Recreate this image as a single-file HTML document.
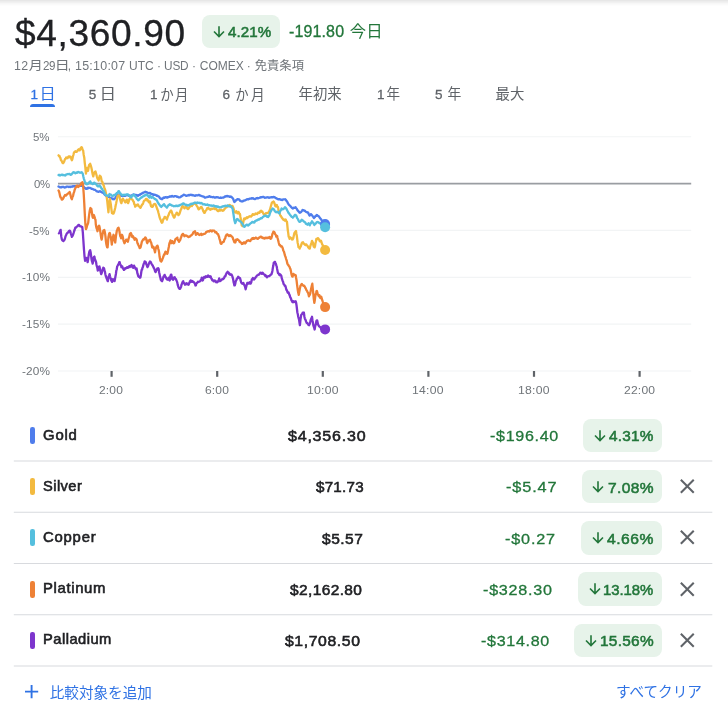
<!DOCTYPE html>
<html lang="ja"><head><meta charset="utf-8"><title>Gold futures comparison</title>
<style>
html,body{margin:0;padding:0;background:#fff}
figure,header,nav,section,footer{margin:0;padding:0;display:block}
body{width:728px;height:711px;position:relative;overflow:hidden;font-family:"Liberation Sans",sans-serif}
#app{position:absolute;left:0;top:0;width:728px;height:711px;will-change:transform}
.t{position:absolute;white-space:nowrap;transform-origin:0 0;font-family:"Liberation Sans",sans-serif;font-weight:400}
.m{-webkit-text-stroke:0.3px currentColor}
.M{-webkit-text-stroke:0.55px currentColor}
.b{font-weight:700}
.j,.ic,.chart{position:absolute;display:block;overflow:visible}
.j text{font-family:"Liberation Sans","Noto Sans CJK JP",sans-serif;font-size:1000px;font-weight:400}
.chart{left:0;top:0}
.topshade{position:absolute;left:0;top:0;width:100%;height:6px;background:linear-gradient(to bottom,rgba(0,0,0,.10),rgba(0,0,0,.03) 60%,rgba(0,0,0,0))}
.badge{position:absolute;background:#e7f3ea;border-radius:8px}
.pill{position:absolute;width:4.4px;height:17px;border-radius:2.2px}
.sep{position:absolute;left:14px;width:698px;height:1px;background:#dadce0}
.uline{position:absolute;background:#2f72e4;border-radius:3px 3px 0 0}
</style></head>
<body>
<div id="app">
<div class="topshade"></div>
<!-- price header -->
<header aria-label="Price">
<div class="badge" style="left:201.8px;top:15.1px;width:78px;height:33.3px"></div>
<svg class="ic" style="left:212.6px;top:25.8px" width="12" height="12" viewBox="0 0 12 12" fill="none" stroke="#22763a" stroke-width="1.6"><path d="M6 .2V10.4M1 5.5L6 10.5l5-5"/></svg>
<span class="t m" style="left:14.76px;top:10px;font-size:36px;line-height:47px;color:#202124;letter-spacing:0.62px;transform:scaleX(1.0302);">$4,360.90</span>
<span class="t M" style="left:227.78px;top:22px;font-size:15px;line-height:20px;color:#22763a;letter-spacing:0.09px;transform:scaleX(1.0088);">4.21%</span>
<span class="t m" style="left:289.18px;top:21px;font-size:15.8px;line-height:21px;color:#22763a;letter-spacing:0.12px;transform:scaleX(1.0135);">-191.80</span>
<svg class="j" role="img" aria-label="今日" style="left:350.27px;top:23.17px" width="30.65" height="15.86" viewBox="15 -863 1869 967" preserveAspectRatio="none" fill="#22763a"><title>今日</title><text x="0" y="0" font-size="1000" fill="#22763a">今日</text></svg>
</header>
<!-- timestamp / exchange line -->
<div aria-label="Quote details">
<span class="t" style="left:13.94px;top:58px;font-size:12px;line-height:16px;color:#70757a;letter-spacing:0.42px;transform:scaleX(1.0297);">12</span>
<span class="t" style="left:42.83px;top:58px;font-size:12px;line-height:16px;color:#70757a;letter-spacing:-0.46px;transform:scaleX(0.9650);">29</span>
<span class="t" style="left:67.77px;top:58px;font-size:12px;line-height:16px;color:#70757a;">,</span>
<span class="t" style="left:75.16px;top:58px;font-size:12px;line-height:16px;color:#70757a;letter-spacing:0.25px;transform:scaleX(1.0356);">15:10:07</span>
<span class="t" style="left:129px;top:58px;font-size:12px;line-height:16px;color:#70757a;letter-spacing:-0.01px;">UTC</span>
<span class="t" style="left:156.9px;top:58px;font-size:12px;line-height:16px;color:#70757a;">·</span>
<span class="t" style="left:163.74px;top:58px;font-size:12px;line-height:16px;color:#70757a;letter-spacing:-0.17px;transform:scaleX(0.9862);">USD</span>
<span class="t" style="left:191.9px;top:58px;font-size:12px;line-height:16px;color:#70757a;">·</span>
<span class="t" style="left:199.77px;top:58px;font-size:12px;line-height:16px;color:#70757a;letter-spacing:0.01px;">COMEX</span>
<span class="t" style="left:246.64px;top:58px;font-size:12px;line-height:16px;color:#70757a;">·</span>
<svg class="j" role="img" aria-label="月" style="left:28.92px;top:59.52px" width="11.66" height="11.17" viewBox="9 -807 832 908" preserveAspectRatio="none" fill="#70757a"><title>月</title><text x="0" y="0" font-size="1000" fill="#70757a">月</text></svg>
<svg class="j" role="img" aria-label="日" style="left:57px;top:59.68px" width="10.4" height="10.84" viewBox="156 -792 696 881" preserveAspectRatio="none" fill="#70757a"><title>日</title><text x="0" y="0" font-size="1000" fill="#70757a">日</text></svg>
<svg class="j" role="img" aria-label="免責条項" style="left:254.95px;top:58.96px" width="49.79" height="11.88" viewBox="16 -863 4048 966" preserveAspectRatio="none" fill="#70757a"><title>免責条項</title><text x="0" y="0" font-size="1000" fill="#70757a">免責条項</text></svg>
</div>
<!-- range tabs -->
<nav aria-label="Range">
<div class="uline" style="left:30.2px;top:104px;width:25.3px;height:3px"></div>
<span class="t m" style="left:30.54px;top:86px;font-size:13.5px;line-height:18px;color:#2f72e4;">1</span>
<span class="t m" style="left:88.7px;top:86px;font-size:13.5px;line-height:18px;color:#5f6368;">5</span>
<span class="t m" style="left:149.93px;top:86px;font-size:13.5px;line-height:18px;color:#5f6368;">1</span>
<span class="t m" style="left:222.6px;top:86px;font-size:13.5px;line-height:18px;color:#5f6368;">6</span>
<span class="t m" style="left:376.9px;top:86px;font-size:13.5px;line-height:18px;color:#5f6368;">1</span>
<span class="t m" style="left:434.92px;top:86px;font-size:13.5px;line-height:18px;color:#5f6368;">5</span>
<svg class="j" role="img" aria-label="日" style="left:41.97px;top:87.86px" width="11.35" height="12.69" viewBox="156 -792 696 881" preserveAspectRatio="none" fill="#2f72e4"><title>日</title><text x="0" y="0" font-size="1000" fill="#2f72e4">日</text></svg>
<svg class="j" role="img" aria-label="日" style="left:102.37px;top:87.86px" width="11.56" height="12.69" viewBox="156 -792 696 881" preserveAspectRatio="none" fill="#5f6368"><title>日</title><text x="0" y="0" font-size="1000" fill="#5f6368">日</text></svg>
<svg class="j" role="img" aria-label="か" style="left:160.53px;top:88px" width="12.44" height="12.4" viewBox="58 -810 927 861" preserveAspectRatio="none" fill="#5f6368"><title>か</title><text x="0" y="0" font-size="1000" fill="#5f6368">か</text></svg>
<svg class="j" role="img" aria-label="月" style="left:175.33px;top:87.66px" width="11.14" height="13.08" viewBox="9 -807 832 908" preserveAspectRatio="none" fill="#5f6368"><title>月</title><text x="0" y="0" font-size="1000" fill="#5f6368">月</text></svg>
<svg class="j" role="img" aria-label="か" style="left:235.93px;top:88px" width="12.33" height="12.4" viewBox="58 -810 927 861" preserveAspectRatio="none" fill="#5f6368"><title>か</title><text x="0" y="0" font-size="1000" fill="#5f6368">か</text></svg>
<svg class="j" role="img" aria-label="月" style="left:250.92px;top:87.66px" width="11.45" height="13.08" viewBox="9 -807 832 908" preserveAspectRatio="none" fill="#5f6368"><title>月</title><text x="0" y="0" font-size="1000" fill="#5f6368">月</text></svg>
<svg class="j" role="img" aria-label="年初来" style="left:298.51px;top:87.25px" width="44.28" height="13.9" viewBox="28 -864 3075 965" preserveAspectRatio="none" fill="#5f6368"><title>年初来</title><text x="0" y="0" font-size="1000" fill="#5f6368">年初来</text></svg>
<svg class="j" role="img" aria-label="年" style="left:387.03px;top:87.26px" width="12.84" height="13.88" viewBox="28 -864 946 964" preserveAspectRatio="none" fill="#5f6368"><title>年</title><text x="0" y="0" font-size="1000" fill="#5f6368">年</text></svg>
<svg class="j" role="img" aria-label="年" style="left:447.62px;top:87.26px" width="13.05" height="13.88" viewBox="28 -864 946 964" preserveAspectRatio="none" fill="#5f6368"><title>年</title><text x="0" y="0" font-size="1000" fill="#5f6368">年</text></svg>
<svg class="j" role="img" aria-label="最大" style="left:495.71px;top:87.3px" width="28.77" height="13.81" viewBox="29 -859 1998 959" preserveAspectRatio="none" fill="#5f6368"><title>最大</title><text x="0" y="0" font-size="1000" fill="#5f6368">最大</text></svg>
</nav>
<!-- comparison chart -->
<figure aria-label="Chart">
<svg class="chart" width="728" height="711" viewBox="0 0 728 711"><line x1="58" x2="691.2" y1="136.75" y2="136.75" stroke="#f2f4f5" stroke-width="1.2"/><line x1="58" x2="691.2" y1="230.45" y2="230.45" stroke="#f2f4f5" stroke-width="1.2"/><line x1="58" x2="691.2" y1="277.3" y2="277.3" stroke="#f2f4f5" stroke-width="1.2"/><line x1="58" x2="691.2" y1="324.15" y2="324.15" stroke="#f2f4f5" stroke-width="1.2"/><line x1="58" x2="691.2" y1="371" y2="371" stroke="#f2f4f5" stroke-width="1.2"/><line x1="58" x2="691.2" y1="183.6" y2="183.6" stroke="#9a9da2" stroke-width="1.8"/><line x1="111.6" x2="111.6" y1="371" y2="376.8" stroke="#5f6368" stroke-width="2.2"/><line x1="217.2" x2="217.2" y1="371" y2="376.8" stroke="#5f6368" stroke-width="2.2"/><line x1="322.8" x2="322.8" y1="371" y2="376.8" stroke="#5f6368" stroke-width="2.2"/><line x1="428.4" x2="428.4" y1="371" y2="376.8" stroke="#5f6368" stroke-width="2.2"/><line x1="534" x2="534" y1="371" y2="376.8" stroke="#5f6368" stroke-width="2.2"/><line x1="639.6" x2="639.6" y1="371" y2="376.8" stroke="#5f6368" stroke-width="2.2"/><path d="M58.52 186.54 L59.05 186.79 L59.58 187.17 L60.1 187.32 L60.63 187.38 L61.16 186.97 L61.69 187.3 L62.21 187 L62.74 186.96 L63.27 186.87 L63.8 186.93 L64.32 187.52 L64.85 187.38 L65.38 187.38 L65.9 187.14 L66.42 186.64 L66.95 186.68 L67.48 186.54 L68 186.75 L68.53 186.98 L69.06 186.96 L69.59 186.7 L70.12 187.03 L70.64 186.61 L71.17 186.54 L71.7 186.79 L72.22 186.32 L72.75 186.56 L73.28 186.26 L73.81 186.42 L74.34 186.1 L74.86 186.32 L75.39 186.26 L75.92 186.2 L76.44 186.04 L76.97 186.18 L77.5 185.98 L78.03 185.89 L78.56 186.13 L79.08 185.97 L79.61 185.84 L80.14 185.82 L80.66 185.97 L81.19 185.71 L81.72 185.56 L82.19 185.6 L82.66 186.12 L83.13 186.26 L83.6 186.69 L84.07 187.25 L84.54 187.95 L85.01 187.89 L85.47 188.68 L85.94 188.79 L86.41 188.4 L86.88 188.77 L87.35 188.37 L87.82 187.83 L88.29 188.19 L88.76 187.67 L89.23 187.96 L89.69 187.92 L90.16 187.95 L90.63 188.22 L91.1 188.42 L91.57 188.79 L92.04 188.91 L92.5 188.94 L92.97 189.07 L93.44 189.52 L93.91 189.53 L94.38 189.77 L94.85 189.93 L95.32 190 L95.79 190.48 L96.26 190.91 L96.72 191.32 L97.19 191.6 L97.66 191.52 L98.13 191.59 L98.6 191.88 L99.07 191.47 L99.54 191.26 L100.01 191.18 L100.48 191.47 L100.94 191.87 L101.41 191.88 L101.88 192.25 L102.35 192.7 L102.82 192.59 L103.29 192.98 L103.76 193.45 L104.23 193.99 L104.7 194.67 L105.16 195.11 L105.63 195.4 L106.1 195.89 L106.57 196.19 L107.04 196.1 L107.51 196.34 L107.98 196.55 L108.45 196.81 L108.92 197.11 L109.38 197.21 L109.85 197.51 L110.32 197.71 L110.79 198.28 L111.26 198.21 L111.73 198.28 L112.2 198.38 L112.67 198.92 L113.14 199.25 L113.6 198.81 L114.07 199.2 L114.54 198.68 L115.01 198.23 L115.48 197.51 L115.95 196.56 L116.41 196.18 L116.88 195.4 L117.35 194.97 L117.82 194.65 L118.29 194.7 L118.76 194.47 L119.23 194.54 L119.7 194.98 L120.17 194.97 L120.63 195.46 L121.1 195.82 L121.57 195.84 L122.04 195.73 L122.51 196.1 L122.98 195.82 L123.45 195.88 L123.92 195.4 L124.39 195.73 L124.85 195.39 L125.32 195.82 L125.79 195.45 L126.26 195.47 L126.73 194.98 L127.2 194.8 L127.67 195.25 L128.14 195.4 L128.61 195.84 L129.07 195.45 L129.54 195.82 L130.01 195.57 L130.48 195.76 L130.95 196.1 L131.42 195.7 L131.89 195.19 L132.36 194.98 L132.83 195.06 L133.29 194.36 L133.76 194.42 L134.23 194.69 L134.7 194.94 L135.17 194.98 L135.64 195.09 L136.11 194.95 L136.58 195.4 L137.05 195.25 L137.51 195.35 L137.98 195.82 L138.45 195.22 L138.92 195.1 L139.39 194.98 L139.86 194.44 L140.32 194.65 L140.79 193.99 L141.26 193.97 L141.73 193.45 L142.2 193.29 L142.67 193.16 L143.14 192.58 L143.61 192.59 L144.08 192.41 L144.54 192.27 L145.01 191.88 L145.48 191.74 L145.95 192.33 L146.42 192.17 L146.89 192.37 L147.36 192.59 L147.83 193.01 L148.3 193.12 L148.76 193.02 L149.23 193.29 L150 192.9 L150.53 193.3 L151.06 193.84 L151.58 193.91 L152.11 194.3 L152.64 194.07 L153.17 194.75 L153.69 194.85 L154.22 194.73 L154.75 194.67 L155.28 194.96 L155.8 195.11 L156.33 195.29 L156.86 195.81 L157.38 195.72 L157.91 196.2 L158.44 196.41 L158.97 196.62 L159.5 197.43 L160.02 198.29 L160.55 198.52 L161.02 198.94 L161.48 198.7 L161.95 199.23 L162.42 198.99 L162.89 198.14 L163.36 197.82 L163.89 197.49 L164.42 197.76 L164.94 197.33 L165.47 197.12 L166 197 L166.53 197.54 L167.05 197.36 L167.58 197.54 L168.11 197.18 L168.63 196.98 L169.16 196.88 L169.69 196.41 L170.22 196.53 L170.75 196.39 L171.27 196.52 L171.8 196.13 L172.33 195.95 L172.86 196.5 L173.38 196.69 L173.91 196.69 L174.44 196.23 L174.97 196.17 L175.49 196.03 L176.02 196.13 L176.55 196.46 L177.07 196.94 L177.6 196.58 L178.13 197.12 L178.66 197.43 L179.19 197.37 L179.71 197.28 L180.24 197.12 L180.77 196.87 L181.3 196.11 L181.82 196.33 L182.35 195.71 L182.82 195.58 L183.29 195.08 L183.76 194.73 L184.28 194.78 L184.81 195.03 L185.34 195.36 L185.86 195.71 L186.39 195.87 L186.92 195.71 L187.44 195.64 L187.97 195.29 L188.5 195.02 L189.03 195.45 L189.55 194.96 L190.08 195.01 L190.61 194.78 L191.13 195.07 L191.66 194.98 L192.19 195.01 L192.72 195.41 L193.25 195.28 L193.77 195.24 L194.3 195.71 L194.83 195.79 L195.36 195.75 L195.88 195.15 L196.41 195.29 L196.94 195.31 L197.47 195.29 L197.99 195.33 L198.52 195.01 L199.05 194.96 L199.57 195.06 L200.1 195.62 L200.63 195.71 L201.16 195.89 L201.69 196.05 L202.21 196.24 L202.74 196.41 L203.27 196.59 L203.8 196.64 L204.32 197.05 L204.85 197.54 L205.38 197.6 L205.91 197.49 L206.43 197.04 L206.96 197.12 L207.49 196.83 L208.01 196.94 L208.54 196.91 L209.07 196.41 L209.6 196.17 L210.12 196.42 L210.65 196.99 L211.18 196.84 L211.71 197.01 L212.24 197.25 L212.76 197.2 L213.29 197.12 L213.82 196.99 L214.34 197.64 L214.87 197.68 L215.4 197.54 L215.93 197.26 L216.45 197.32 L216.98 197.1 L217.51 197.4 L218.04 197.28 L218.56 197.58 L219.09 197.78 L219.62 197.82 L220.15 197.85 L220.68 197.54 L221.2 197.95 L221.73 197.82 L222.26 197.57 L222.78 197.58 L223.31 197.62 L223.84 197.12 L224.37 197.2 L224.89 196.42 L225.42 196.66 L225.95 196.13 L226.48 196.34 L227 195.92 L227.53 196.12 L228.06 196.41 L228.59 196.22 L229.12 196.42 L229.64 196.94 L230.17 196.69 L230.64 196.52 L231.11 196.89 L231.58 197.12 L232.05 197.33 L232.51 198.18 L232.98 198.52 L233.45 199.69 L233.92 201.02 L234.39 202.04 L234.86 201.58 L235.32 201.11 L235.79 200.63 L236.26 199.91 L236.73 199.92 L237.2 199.23 L237.73 199.06 L238.25 199.32 L238.78 199.61 L239.31 199.51 L240 200.79 L240.53 200.67 L241.06 201.24 L241.58 201.3 L242.11 201.49 L242.64 201.38 L243.17 200.87 L243.69 200.63 L244.22 200.51 L244.75 200.49 L245.28 200.38 L245.8 200.07 L246.33 199.66 L246.86 199.27 L247.38 199.22 L247.91 199.34 L248.44 199.38 L248.97 198.94 L249.5 198.92 L250.02 198.53 L250.55 198.68 L251.08 198.69 L251.61 198.21 L252.13 198.62 L252.66 198.26 L253.19 198.26 L253.72 198.85 L254.24 198.98 L254.77 199.1 L255.3 199.16 L255.82 198.44 L256.35 198.18 L256.88 198.26 L257.41 198.03 L257.94 198.37 L258.46 198.18 L258.99 197.97 L259.52 197.73 L260.05 197.42 L260.57 197.6 L261.1 197.27 L261.63 197.29 L262.15 197.2 L262.68 196.83 L263.21 196.85 L263.74 196.95 L264.26 197.5 L264.79 197.82 L265.32 197.69 L265.85 197.54 L266.38 197.49 L266.9 197.45 L267.43 197.27 L267.96 197.31 L268.49 197.41 L269.01 197.83 L269.54 197.69 L270.07 197.41 L270.6 197.42 L271.12 197.14 L271.65 197.27 L272.26 197.12 L272.86 197.33 L273.47 196.85 L274.03 197.17 L274.6 197.15 L275.16 197.69 L275.72 198.2 L276.29 198.19 L276.85 198.68 L277.46 198.86 L278.07 199.24 L278.68 199.1 L279.29 199.39 L279.9 199.24 L280.51 199.66 L281.07 199.77 L281.63 199.71 L282.19 200.08 L282.75 199.65 L283.32 199.41 L283.88 199.38 L284.49 199.43 L285.1 199.22 L285.71 199.66 L286.18 200.37 L286.65 201.16 L287.12 201.49 L287.59 202.69 L288.05 203.48 L288.52 204.3 L288.99 204.93 L289.46 205.26 L289.93 205.71 L290.4 206.09 L290.87 206.8 L291.34 207.12 L291.81 207.79 L292.27 207.89 L292.74 208.52 L293.21 208.41 L293.68 207.76 L294.15 207.82 L294.62 207.76 L295.09 207.49 L295.56 207.12 L296.03 208.06 L296.49 208.48 L296.96 209.23 L297.43 210.11 L297.9 210.63 L298.37 211.34 L298.84 211.61 L299.3 212.51 L299.77 212.74 L300.24 212.64 L300.71 212.28 L301.18 212.04 L301.65 211.21 L302.12 210.71 L302.59 209.93 L303.06 210.01 L303.52 210.25 L303.99 210.35 L304.46 210.84 L304.93 210.71 L305.4 211.34 L305.87 211.68 L306.34 211.99 L306.81 212.04 L307.28 212.54 L307.74 212.26 L308.21 212.74 L308.68 213.93 L309.15 214.86 L309.62 215.56 L310.09 215.14 L310.56 214.32 L311.03 214.18 L311.51 214.97 L311.98 215.07 L312.46 215.8 L312.94 216.77 L313.42 217.01 L313.9 218.13 L314.38 217.37 L314.86 217.18 L315.34 216.23 L315.82 215.56 L316.29 215.77 L316.77 215.03 L317.25 215.2 L317.73 215.67 L318.21 215.94 L318.69 216.28 L319.17 216.91 L319.65 217.56 L320.13 218.18 L320.6 218.84 L321.08 219.18 L321.56 220.16 L322.04 220.61 L322.52 221.49 L323 221.93 L323.47 222.86 L323.95 223.11 L324.52 223.39 L325.1 223.98" fill="none" stroke="#4f7dec" stroke-width="2.3" stroke-linejoin="round" stroke-linecap="round"/><path d="M58.52 155.32 L58.99 155.96 L59.45 155.96 L59.92 157.43 L60.39 157.83 L60.86 160.09 L61.33 160.24 L61.8 161.25 L62.27 162.31 L62.74 163.05 L63.21 163.16 L63.67 162.42 L64.14 161.65 L64.63 160.13 L65.13 158.83 L65.69 158.39 L66.25 157.43 L66.72 158.21 L67.19 157.68 L67.66 158.13 L68.13 157.01 L68.59 156.42 L69.06 156.44 L69.53 156.49 L70 157.36 L70.47 156.72 L70.94 157.26 L71.41 159.28 L71.88 160.24 L72.44 158.89 L73 156.02 L73.5 154.53 L73.99 152.5 L74.46 152.13 L74.92 151.84 L75.39 151.1 L75.86 151.9 L76.33 151.58 L76.8 151.8 L77.27 151.25 L77.74 150.31 L78.21 149.69 L78.68 149.32 L79.14 149.98 L79.61 150.39 L80.08 149.76 L80.55 148.23 L81.02 147.58 L81.51 147.17 L82 147.58 L82.56 149.71 L83.13 150.39 L83.69 154.68 L84.25 157.43 L84.75 162.78 L85.24 166.57 L85.94 173.6 L86.5 170.47 L87.07 167.97 L87.56 169.06 L88.05 170.79 L88.55 167.72 L89.04 165.16 L89.6 164.63 L90.16 163.76 L90.72 165.47 L91.29 167.27 L91.78 169.49 L92.27 172.19 L92.77 174.71 L93.26 176.41 L93.82 174.07 L94.38 172.9 L94.94 171.73 L95.51 171.49 L96 173.23 L96.49 175.01 L96.98 177 L97.48 178.52 L98.04 179.37 L98.6 180.63 L99.16 177.9 L99.73 175.71 L100.22 176.42 L100.71 176.41 L101.2 178.34 L101.69 181.34 L102.25 181.73 L102.82 183.45 L103.38 184.79 L103.95 186.26 L104.44 188.18 L104.93 189.07 L105.42 190.83 L105.91 193.29 L106.34 195.29 L106.76 197.51 L107.25 201.19 L107.74 205.95 L108.45 212.28 L109.15 203.14 L109.85 198.92 L110.34 201.79 L110.84 204.54 L111.4 209.09 L111.96 212.98 L112.45 212.8 L112.95 213.68 L113.51 213.6 L114.07 212.28 L114.63 210.26 L115.2 208.06 L115.69 205.24 L116.18 203.14 L116.68 200.63 L117.17 197.51 L117.73 195.72 L118.29 195.4 L118.86 195.25 L119.42 196.1 L119.91 198.77 L120.4 200.32 L120.9 202.32 L121.39 203.14 L121.95 201.18 L122.51 198.92 L122.98 198.66 L123.45 200.05 L123.92 200.32 L124.39 200.83 L124.85 201.77 L125.32 202.43 L125.79 201.9 L126.26 200.49 L126.73 199.62 L127.2 200.06 L127.67 202.67 L128.14 203.14 L128.61 201.81 L129.07 200.54 L129.54 198.92 L130.01 198.38 L130.48 197.66 L130.95 197.51 L131.42 199.01 L131.89 199.43 L132.36 199.62 L132.83 200.19 L133.29 201.48 L133.76 201.73 L134.23 204.12 L134.7 204.44 L135.17 206.65 L135.64 206.16 L136.11 205.41 L136.58 205.25 L137.05 204.73 L137.51 205.34 L137.98 204.54 L138.45 205.47 L138.92 206.34 L139.39 206.65 L139.86 206.65 L140.32 207.91 L140.79 207.36 L141.26 206.18 L141.73 205.51 L142.2 204.54 L142.67 204.29 L143.14 203.1 L143.61 201.73 L144.08 200.82 L144.54 200.55 L145.01 200.32 L145.48 199.71 L145.95 198.98 L146.42 198.92 L146.89 199.04 L147.36 200.62 L147.83 200.32 L148.3 200.4 L148.76 202.36 L149.23 202.43 L150 201.34 L150.56 204.6 L151.13 206.26 L151.69 206.69 L152.25 206.96 L152.81 206.62 L153.38 204.85 L153.94 204.08 L154.5 204.15 L155.06 203.85 L155.63 204.57 L156.19 206.11 L156.75 207.67 L157.31 209.32 L157.88 210.48 L158.44 212.78 L159 214.7 L159.56 217.21 L160.13 218.92 L160.69 219.82 L161.25 221.73 L161.81 222.7 L162.38 222.43 L162.94 220.49 L163.5 218.92 L164.06 218.55 L164.63 216.81 L165.19 217.11 L165.75 217.51 L166.31 218.24 L166.88 219.62 L167.44 217.75 L168 216.1 L168.56 215.22 L169.13 213.29 L169.69 212.33 L170.25 211.18 L170.68 211.55 L171.1 210.48 L171.66 211.59 L172.22 213.29 L172.78 215.15 L173.35 216.1 L173.91 217.58 L174.47 217.51 L175.03 215.52 L175.6 214.7 L176.16 213.7 L176.72 212.59 L177.28 213.06 L177.85 213.99 L178.41 215.12 L178.97 214.7 L179.53 213.76 L180.1 211.88 L180.66 210.03 L181.22 209.07 L181.78 207.34 L182.35 206.26 L182.91 206.25 L183.47 206.96 L184.03 207.75 L184.6 208.37 L185.16 207.19 L185.72 206.96 L186.28 206.84 L186.85 207.67 L187.41 208.69 L187.97 209.07 L188.53 208.63 L189.1 207.67 L189.66 206.89 L190.23 206.26 L190.79 205.27 L191.35 205.56 L191.91 206 L192.48 204.85 L193.04 204.59 L193.6 204.15 L194.16 203.68 L194.73 203.45 L195.29 203.47 L195.85 204.15 L196.41 205.29 L196.98 206.26 L197.54 206.79 L198.1 208.37 L198.66 209.35 L199.23 209.07 L199.79 208.41 L200.35 207.67 L200.91 206.92 L201.48 206.96 L202.04 208.2 L202.6 209.07 L203.16 210.84 L203.73 211.88 L204.29 212.81 L204.85 212.59 L205.41 211.04 L205.98 210.48 L206.54 209.76 L207.1 208.37 L207.66 208.08 L208.23 207.67 L208.79 208.54 L209.35 209.07 L209.91 209.54 L210.48 209.77 L211.04 208.76 L211.6 209.07 L212.16 208.85 L212.73 208.79 L213.29 208.67 L213.85 208.37 L214.41 208.09 L214.98 209.07 L215.54 209.11 L216.1 208.37 L216.66 209.69 L217.23 210.48 L217.79 211.11 L218.35 211.18 L218.91 210.52 L219.48 209.77 L220.04 210.68 L220.6 210.48 L221.16 209.79 L221.73 210.2 L222.3 210.35 L222.86 210.76 L223.42 210.47 L223.98 209.77 L224.55 209.03 L225.11 208.37 L225.67 207.76 L226.23 206.96 L226.8 207.17 L227.36 206.26 L227.92 206.33 L228.48 205.56 L229.05 205.36 L229.61 204.85 L230.17 205.4 L230.73 206.26 L231.3 206.23 L231.86 205.98 L232.42 205.89 L232.98 206.96 L233.55 208.51 L234.11 210.48 L234.67 212.29 L235.23 212.59 L235.8 212.47 L236.36 211.18 L236.92 212.37 L237.48 213.29 L238.05 212.33 L238.61 211.88 L239.17 213.17 L239.73 214.7 L240 214.15 L240.42 216.98 L240.84 219.07 L241.26 221.68 L241.69 225.4 L242.11 225.32 L242.53 226.1 L242.95 223.97 L243.38 221.88 L243.8 219.49 L244.22 218.37 L244.78 219.04 L245.34 219.07 L245.91 218.15 L246.47 217.67 L247.03 217.24 L247.59 217.95 L248.16 217.13 L248.72 216.96 L249.28 216.3 L249.85 216.26 L250.41 216.39 L250.97 216.54 L251.53 215.68 L252.1 215.56 L252.66 214.09 L253.22 214.15 L253.78 214.85 L254.35 214.57 L254.91 214.47 L255.47 213.45 L256.04 213.94 L256.6 213.73 L257.16 214.03 L257.72 213.16 L258.29 212.36 L258.85 212.74 L259.41 212.9 L259.97 211.76 L260.54 211.02 L261.1 210.63 L261.66 211.7 L262.22 211.34 L262.79 212.51 L263.35 213.45 L263.91 214.61 L264.47 214.57 L265.04 214.78 L265.6 213.73 L266.16 213 L266.72 213.16 L267.29 213.07 L267.85 212.74 L268.41 212.76 L268.97 212.04 L269.54 210.47 L270.1 209.23 L270.66 206.96 L271.22 205.01 L271.79 202.92 L272.35 202.19 L272.91 202.44 L273.47 201.49 L274.04 202.28 L274.6 203.6 L275.16 205.71 L275.72 206.41 L276.29 206.09 L276.85 205.01 L277.41 206.86 L277.97 207.12 L278.54 210.27 L279.1 212.04 L279.67 213.31 L280.23 215.56 L280.79 215.76 L281.35 216.96 L281.92 217.92 L282.48 218.37 L283.04 219.43 L283.6 219.77 L284.17 219.68 L284.73 220.48 L285.29 219.4 L285.85 219.77 L286.42 221.36 L286.98 221.88 L287.4 226.05 L287.82 230.32 L288.24 233.14 L288.66 236.65 L289.09 237.06 L289.51 238.76 L289.93 238.11 L290.35 237.36 L290.92 238.05 L291.48 238.06 L292.04 239.55 L292.6 239.47 L293.17 238.41 L293.73 235.95 L294.29 233.41 L294.85 232.43 L295.42 231.67 L295.98 231.03 L296.4 233.76 L296.82 235.95 L297.25 239.43 L297.67 242.98 L298.09 244.58 L298.51 247.2 L299.07 247.37 L299.63 248.61 L300.19 247.14 L300.76 246.5 L301.32 244.68 L301.88 242.98 L302.44 242.42 L303.01 242.28 L303.57 243.55 L304.14 243.68 L304.7 244.44 L305.26 245.09 L305.82 244.5 L306.39 244.39 L306.95 245.53 L307.51 245.79 L308.07 247.12 L308.64 247.9 L309.2 248.43 L309.76 248.61 L310.32 246.01 L310.89 244.39 L311.46 242.91 L312.03 240.92 L312.46 242.21 L312.9 242.37 L313.33 245.1 L313.76 246.63 L314.19 246.55 L314.62 247.37 L315.05 246.04 L315.48 243.19 L315.91 241.4 L316.34 239 L316.92 239.34 L317.5 238.35 L318.07 238.16 L318.64 239.1 L319.22 239.72 L319.79 241.27 L320.37 241.53 L320.94 240.62 L321.51 242.2 L322.09 244.18 L322.66 244.99 L323.23 247.05 L323.85 248.61 L324.48 249.72 L325.1 249.94" fill="none" stroke="#f3ba3f" stroke-width="2.3" stroke-linejoin="round" stroke-linecap="round"/><path d="M58.52 175.01 L59.05 174.78 L59.58 175.43 L60.1 175.49 L60.63 175.29 L61.16 174.74 L61.69 174.82 L62.21 175.03 L62.74 174.73 L63.27 175.21 L63.8 175.01 L64.32 175.34 L64.85 175.29 L65.38 175.48 L65.9 174.76 L66.42 174.38 L66.95 174.3 L67.48 174.2 L68 173.94 L68.53 174.2 L69.06 173.88 L69.59 173.93 L70.12 174.45 L70.64 174.79 L71.17 174.73 L71.7 174.13 L72.22 173.58 L72.75 172.81 L73.28 172.19 L73.81 172.56 L74.34 172.45 L74.86 172.88 L75.39 173.32 L75.92 172.99 L76.44 172.38 L76.97 172.89 L77.5 172.19 L78.03 171.91 L78.56 172.05 L79.08 172.51 L79.61 172.48 L80.14 172.59 L80.66 172.76 L81.19 172.53 L81.72 172.19 L82.22 172.86 L82.71 173.6 L83.27 176.25 L83.83 178.52 L84.32 180.01 L84.82 182.04 L85.38 182.49 L85.94 183.73 L86.41 184.24 L86.88 183.83 L87.35 184.15 L87.82 183.47 L88.29 183.63 L88.76 182.74 L89.23 182.12 L89.69 182.07 L90.16 181.34 L90.72 182.28 L91.29 183.45 L91.76 183.36 L92.22 183.79 L92.69 184.15 L93.16 183.99 L93.63 182.79 L94.1 182.74 L94.57 182.75 L95.04 183.65 L95.51 183.45 L95.98 183.82 L96.44 184.53 L96.91 185.56 L97.38 185.98 L97.85 186.37 L98.32 186.26 L98.79 186.35 L99.26 185.51 L99.73 185.56 L100.2 186.27 L100.66 186.89 L101.13 187.67 L101.6 188.63 L102.07 188.85 L102.54 189.77 L103.01 190.55 L103.48 190.82 L103.95 191.88 L104.42 192.54 L104.88 194.12 L105.35 194.7 L105.82 195.24 L106.29 195.18 L106.76 195.4 L107.23 195.61 L107.69 195.79 L108.16 196.1 L108.63 195.76 L109.1 194.89 L109.57 193.99 L110.04 194.64 L110.51 194.59 L110.98 194.7 L111.45 195.4 L111.91 195.83 L112.38 196.1 L112.85 195.88 L113.32 195.52 L113.79 195.4 L114.26 194.89 L114.73 194.81 L115.2 194.7 L115.67 194.62 L116.13 193.67 L116.6 193.29 L117.07 193.01 L117.54 192.57 L118.01 191.88 L118.5 191.09 L118.99 191.18 L119.48 192.11 L119.98 193.29 L120.45 193.38 L120.92 194.32 L121.39 194.7 L121.86 194.58 L122.32 194.9 L122.79 195.4 L123.26 194.86 L123.73 194.8 L124.2 194.7 L124.67 194.89 L125.13 194.66 L125.6 194.98 L126.07 194.8 L126.54 194.46 L127.01 194.42 L127.48 194.36 L127.95 194.44 L128.42 194.7 L128.89 195.6 L129.35 195.66 L129.82 196.1 L130.29 196.75 L130.76 197.24 L131.23 197.51 L131.7 196.47 L132.17 195.67 L132.64 195.4 L133.11 194.89 L133.57 195.29 L134.04 194.7 L134.51 195.81 L134.98 195.87 L135.45 196.81 L135.92 197.12 L136.39 198.01 L136.86 198.92 L137.33 199.31 L137.79 199.69 L138.26 200.32 L138.73 199.62 L139.2 199.66 L139.67 198.92 L140.14 198.45 L140.61 198.09 L141.08 197.51 L141.55 197.58 L142.01 196.78 L142.48 196.81 L142.95 196.52 L143.42 195.97 L143.89 196.1 L144.36 195.75 L144.83 195.22 L145.3 195.4 L145.77 194.98 L146.23 195.06 L146.7 194.7 L147.17 194.77 L147.64 195.57 L148.11 196.1 L148.58 196.61 L149.04 197.26 L149.51 197.51 L150 195.71 L150.47 196.49 L150.94 196.94 L151.41 197.82 L151.88 197.4 L152.34 196.99 L152.81 197.12 L153.28 197.64 L153.75 198.04 L154.22 198.52 L154.69 199.05 L155.16 198.97 L155.63 199.23 L156.1 199.79 L156.56 200.07 L157.03 200.63 L157.5 201.85 L157.97 202.56 L158.44 203.45 L158.91 204.08 L159.38 204.51 L159.85 205.56 L160.32 205.61 L160.78 206.51 L161.25 206.96 L161.72 206.23 L162.19 206.16 L162.66 205.56 L163.13 204.8 L163.59 204.63 L164.06 204.15 L164.53 205.11 L165 205.67 L165.47 206.26 L165.94 206.76 L166.41 206.78 L166.88 207.67 L167.35 206.83 L167.81 206.19 L168.28 205.56 L168.75 204.78 L169.22 204.76 L169.69 204.15 L170.16 204.62 L170.63 204.81 L171.1 204.85 L171.57 205.37 L172.03 205.64 L172.5 205.56 L172.97 205.8 L173.44 205.97 L173.91 206.26 L174.38 206.05 L174.85 206.07 L175.32 205.98 L175.79 206.13 L176.25 205.59 L176.72 205.56 L177.19 206.12 L177.66 206 L178.13 205.98 L178.6 205.42 L179.07 205.67 L179.54 205.56 L180.01 204.9 L180.47 204.85 L180.94 204.85 L181.41 204.28 L181.88 204.16 L182.35 203.73 L182.82 204.07 L183.29 203.34 L183.76 203.45 L184.23 203.97 L184.69 204.6 L185.16 204.57 L185.63 204.89 L186.1 204.73 L186.57 205.13 L187.04 204.87 L187.5 205.57 L187.97 205.56 L188.44 205.08 L188.91 205.32 L189.38 204.85 L189.85 204.36 L190.32 204.47 L190.79 204.15 L191.26 203.59 L191.72 203.96 L192.19 203.73 L192.66 203.88 L193.13 203.39 L193.6 203.45 L194.07 202.9 L194.54 202.59 L195.01 202.74 L195.48 202.59 L195.94 202.92 L196.41 203.16 L196.88 203.26 L197.35 202.43 L197.82 202.74 L198.29 202.81 L198.76 202.79 L199.23 202.88 L199.7 202.78 L200.16 203.43 L200.63 203.16 L201.1 202.89 L201.57 203.38 L202.04 203.45 L202.51 203.57 L202.98 204.34 L203.45 204.15 L203.92 204.44 L204.38 204.21 L204.85 204.57 L205.32 204.44 L205.79 204.91 L206.26 204.85 L206.73 204.8 L207.2 204.4 L207.67 204.57 L208.14 205.05 L208.6 205.28 L209.07 205.13 L209.54 205.38 L210.01 205.48 L210.48 205.56 L210.95 205.42 L211.41 205.63 L211.88 205.7 L212.35 205.99 L212.82 205.64 L213.29 205.56 L213.76 205.46 L214.23 206.09 L214.7 205.98 L215.17 206.13 L215.63 206.51 L216.1 206.26 L216.57 206.62 L217.04 206.75 L217.51 206.54 L217.98 206.32 L218.45 207.05 L218.92 206.96 L219.39 207.32 L219.85 207.35 L220.32 207.38 L220.79 207.29 L221.26 206.9 L221.73 206.96 L222.2 206.46 L222.67 206.57 L223.14 206.54 L223.61 206.04 L224.07 206.04 L224.54 206.26 L225.01 205.76 L225.48 206.07 L225.95 205.98 L226.42 206.02 L226.89 205.93 L227.36 205.56 L227.83 205.33 L228.29 206.14 L228.76 205.98 L229.23 206.5 L229.7 205.96 L230.17 206.26 L230.64 206.07 L231.11 207.06 L231.58 206.96 L232.14 208.05 L232.7 209.07 L233.12 211.97 L233.54 214.7 L233.96 217.56 L234.39 220.32 L234.81 221.6 L235.23 223.14 L235.66 222.09 L236.08 221.03 L236.64 219.85 L237.2 218.92 L237.76 219.4 L238.33 219.62 L238.89 220.39 L239.45 221.03 L240 221.18 L240.47 221.55 L240.94 221.76 L241.41 222.59 L241.88 222.89 L242.34 223.68 L242.81 224.7 L243.28 225.25 L243.75 226.54 L244.22 226.81 L244.69 226.62 L245.16 225.86 L245.63 225.4 L246.1 225.24 L246.56 224.58 L247.03 224.7 L247.5 224.95 L247.97 225.53 L248.44 225.4 L248.91 224.68 L249.38 224.56 L249.85 223.99 L250.32 223.4 L250.78 223.14 L251.25 223.01 L251.72 222.52 L252.19 221.81 L252.66 221.88 L253.13 222.35 L253.59 222.16 L254.06 222.59 L254.53 222.45 L255 221.25 L255.47 221.18 L255.94 220.53 L256.41 220.44 L256.88 220.48 L257.35 219.8 L257.81 219.7 L258.28 219.77 L258.75 219.25 L259.22 219.62 L259.69 219.07 L260.16 218.75 L260.63 218.18 L261.1 218.37 L261.57 218.41 L262.03 217.94 L262.5 217.38 L262.97 216.8 L263.44 216.65 L263.91 216.26 L264.38 215.88 L264.85 215.67 L265.32 215.56 L265.79 215.7 L266.25 216.14 L266.72 216.26 L267.19 216.91 L267.66 216.28 L268.13 216.96 L268.69 216.17 L269.25 215.56 L269.81 213.74 L270.38 212.04 L270.94 211.18 L271.5 209.93 L272.06 209.28 L272.63 208.52 L273.19 209.1 L273.76 209.23 L274.32 210.15 L274.88 211.34 L275.44 211.7 L276.01 212.32 L276.57 211.82 L277.13 211.76 L277.69 211.87 L278.26 212.74 L278.82 212.65 L279.38 213.45 L279.94 211.64 L280.51 210.63 L281.07 209.81 L281.63 208.52 L282.19 209.24 L282.76 209.23 L283.32 209.17 L283.88 208.52 L284.44 207.9 L285.01 207.12 L285.57 207.55 L286.13 208.52 L286.69 209.29 L287.26 210.63 L287.82 211.36 L288.38 212.74 L288.94 213.11 L289.51 214.15 L290.07 214.92 L290.63 215.56 L291.19 216.29 L291.76 216.96 L292.32 216.89 L292.88 217.67 L293.44 216.81 L294.01 216.26 L294.57 215.16 L295.13 214.85 L295.69 215.16 L296.26 215.56 L296.82 217.33 L297.38 218.37 L297.94 219.11 L298.51 220.48 L299.07 221.49 L299.63 221.88 L300.19 221.72 L300.76 221.18 L301.32 220.21 L301.88 219.77 L302.44 220.29 L303.01 220.48 L303.57 221.2 L304.14 221.88 L304.7 221.97 L305.26 222.59 L305.82 223.7 L306.39 223.99 L306.95 224.02 L307.51 224.7 L308.07 224.08 L308.64 223.29 L309.2 224.16 L309.76 225.4 L310.32 223.92 L310.89 223.29 L311.46 222.42 L312.03 221.25 L312.61 222.31 L313.19 222.74 L313.76 223.94 L314.33 224.92 L314.9 224.29 L315.48 223.58 L316.06 223.33 L316.63 222.24 L317.2 221.98 L317.78 222.03 L318.35 222.41 L318.92 222.67 L319.5 223.36 L320.08 223.16 L320.65 223.68 L321.23 224.2 L321.8 224.66 L322.35 225.23 L322.9 225.42 L323.45 225.58 L324 226.79 L324.55 226.78 L325.1 227.26" fill="none" stroke="#55bfde" stroke-width="2.3" stroke-linejoin="round" stroke-linecap="round"/><path d="M58.52 190.48 L59.01 191.4 L59.5 193.29 L60.06 196.02 L60.63 197.51 L61.19 197.77 L61.75 199.62 L62.31 199.57 L62.88 198.92 L63.44 197.9 L64 196.81 L64.56 195.79 L65.13 194.98 L65.69 195.62 L66.25 195.4 L66.81 194.54 L67.38 193.99 L67.94 193.59 L68.5 193.01 L69.06 192.82 L69.63 191.88 L70.19 193.79 L70.75 196.1 L71.31 198.24 L71.88 199.2 L72.44 196.89 L73 196.1 L73.56 193.44 L74.13 191.88 L74.69 189.73 L75.25 188.37 L75.81 187.49 L76.38 186.26 L76.8 186.63 L77.22 185.56 L77.72 186.02 L78.21 186.96 L78.7 185.84 L79.19 186.26 L79.75 185.65 L80.32 184.85 L80.88 184.58 L81.44 182.74 L81.94 182.57 L82.43 182.32 L83.13 186.26 L83.69 193.29 L84.25 203.14 L84.82 214.39 L85.38 224.23 L85.94 229.14 L86.5 228.01 L87.07 225.63 L87.63 224.44 L88.19 222.81 L88.76 217.89 L89.18 214.61 L89.6 211.56 L90.02 209.53 L90.44 208.05 L90.87 208.87 L91.29 208.75 L91.71 211.16 L92.13 214.37 L92.55 216.75 L92.97 217.89 L93.39 215.84 L93.82 215.08 L94.24 216.28 L94.66 217.19 L95.09 218.79 L95.51 220 L95.79 224.22 L96.21 226.62 L96.63 228.44 L97.06 229.38 L97.48 231.25 L97.9 228.98 L98.32 227.74 L98.74 225.99 L99.16 225.63 L99.59 227.07 L100.01 229.85 L100.43 232.43 L100.85 235.47 L101.27 238.23 L101.69 239.69 L102.12 236.96 L102.54 234.06 L102.96 233.07 L103.38 230.55 L103.81 230.4 L104.23 229.85 L104.65 231.28 L105.07 233.36 L105.49 236.53 L105.91 241.1 L106.34 244.09 L106.76 246.02 L107.18 247.46 L107.6 247.43 L108.03 242.23 L108.45 236.88 L108.87 234.89 L109.29 233.36 L109.71 232.93 L110.13 234.06 L110.56 236.65 L110.98 238.28 L111.4 241.15 L111.82 244.61 L112.25 241.28 L112.67 238.28 L113.09 236.49 L113.51 234.77 L113.93 236.04 L114.35 238.28 L114.78 240.98 L115.2 242.5 L115.62 239 L116.04 235.47 L116.46 232.99 L116.88 230.55 L117.31 229.77 L117.73 228.44 L118.15 227.78 L118.57 227.74 L119 229.25 L119.42 231.25 L119.84 233.9 L120.26 236.17 L120.68 236.76 L121.1 238.28 L121.53 236.48 L121.95 234.77 L122.37 235.54 L122.79 236.88 L123.22 239.15 L123.64 241.1 L124.06 242.15 L124.48 243.21 L124.9 242.55 L125.32 241.1 L125.75 240.91 L126.17 239.69 L126.59 239.63 L127.01 240.39 L127.44 240.94 L127.86 241.8 L128.28 239.88 L128.7 238.28 L129.12 237.47 L129.54 235.47 L129.96 233.64 L130.39 233.36 L130.81 233.02 L131.23 234.06 L131.65 234.76 L132.07 236.88 L132.5 237.24 L132.92 236.17 L133.34 236.99 L133.76 237.58 L134.19 238.67 L134.61 239.69 L135.03 238.76 L135.45 238.28 L135.87 238.67 L136.29 238.99 L136.71 239.81 L137.14 241.8 L137.56 243.53 L137.98 243.91 L138.41 245.21 L138.83 246.02 L139.25 246.83 L139.67 248.13 L140.09 247.85 L140.51 247.43 L140.94 245.81 L141.36 243.91 L141.78 242.04 L142.2 241.1 L142.62 240.46 L143.05 239.69 L143.47 239.15 L143.89 238.99 L144.31 239.29 L144.73 238.28 L145.16 237.49 L145.58 237.58 L146 238.41 L146.42 239.69 L146.84 242.09 L147.26 243.21 L147.69 241.86 L148.11 241.8 L148.53 240.33 L148.95 240.39 L149.47 240.65 L150 239.69 L150.56 241.76 L151.13 242.5 L151.69 244.7 L152.25 247.43 L152.81 247.62 L153.38 246.72 L153.94 248.29 L154.5 250.24 L155.06 252.35 L155.49 249.46 L155.91 248.13 L156.47 246.77 L157.03 246.02 L157.45 245.61 L157.88 246.72 L158.3 249 L158.72 250.24 L159.14 252.63 L159.56 256.57 L159.99 258.79 L160.41 260.79 L160.83 261.27 L161.25 261.49 L161.68 260.91 L162.1 260.08 L162.52 258.68 L162.94 257.97 L163.36 256.71 L163.78 255.16 L164.2 254.29 L164.63 254.46 L165.05 252.75 L165.47 251.65 L165.89 251.91 L166.32 253.05 L166.74 253.51 L167.16 253.76 L167.58 253.12 L168 250.94 L168.43 248.75 L168.85 246.72 L169.27 244.11 L169.69 242.5 L170.11 241.75 L170.53 240.39 L170.95 241.02 L171.38 243.21 L171.8 242.28 L172.22 241.1 L172.64 242.18 L173.07 242.5 L173.49 243.29 L173.91 243.21 L174.33 242.67 L174.75 241.1 L175.18 239.89 L175.6 238.99 L176.02 238.89 L176.44 238.28 L176.87 238.35 L177.29 237.58 L177.71 239.05 L178.13 240.39 L178.55 240.66 L178.97 241.8 L179.39 241.14 L179.82 240.39 L180.24 240.01 L180.66 238.28 L181.08 237.4 L181.5 236.17 L181.93 234.84 L182.35 234.77 L182.77 233.84 L183.19 234.06 L183.62 235.39 L184.04 235.19 L184.46 236.22 L184.88 235.75 L185.44 235.48 L186.01 235.47 L186.57 235.69 L187.13 236.17 L187.69 236.41 L188.26 237.16 L188.82 236.85 L189.38 236.6 L189.94 236.57 L190.51 235.75 L191.07 235.41 L191.63 235.19 L192.19 234.3 L192.76 233.78 L193.32 232.42 L193.88 231.95 L194.44 232.07 L195.01 231.25 L195.43 232.92 L195.85 234.77 L196.27 234.58 L196.69 234.06 L197.25 233.08 L197.82 233.36 L198.38 234.19 L198.95 234.77 L199.51 235.03 L200.07 234.35 L200.63 234.6 L201.2 233.78 L201.76 234.93 L202.32 234.49 L202.88 234.47 L203.45 234.06 L204.01 233.86 L204.57 233.78 L205.13 233.62 L205.7 232.94 L206.26 231.82 L206.82 231.95 L207.38 231.38 L207.95 231.25 L208.51 231.16 L209.07 231.53 L209.63 230.75 L210.2 230.97 L210.76 230.47 L211.32 230.55 L211.88 231.55 L212.45 230.97 L213.01 230.48 L213.57 230.69 L214.13 230.64 L214.7 231.25 L215.26 232.37 L215.82 232.38 L216.38 232.23 L216.95 233.36 L217.51 234.15 L218.07 234.06 L218.5 235.7 L218.92 236.17 L219.34 238.3 L219.76 239.69 L220.18 240.98 L220.6 243.21 L221.02 243.86 L221.45 243.91 L221.87 242.59 L222.29 242.5 L222.71 242.39 L223.14 241.8 L223.56 241.82 L223.98 241.1 L224.4 239.37 L224.82 238.99 L225.25 238.18 L225.67 236.17 L226.09 235.91 L226.51 234.77 L226.94 235.14 L227.36 234.35 L227.92 235.24 L228.48 235.19 L229.05 236.11 L229.61 235.75 L230.17 235.08 L230.73 235.47 L231.3 236.26 L231.86 236.6 L232.28 237.09 L232.7 237.58 L233.12 239.3 L233.54 239.69 L233.96 241.25 L234.39 242.22 L234.81 242.05 L235.23 242.5 L235.66 241.49 L236.08 239.69 L236.5 240.19 L236.92 239.41 L237.49 239.27 L238.05 239.97 L238.61 240.06 L239.17 240.82 L239.58 241.91 L240 241.58 L240.47 242.47 L240.94 242.44 L241.41 242.98 L241.88 243.97 L242.34 243.27 L242.81 243.68 L243.28 243.14 L243.75 242.4 L244.22 242.28 L244.69 242.34 L245.16 243.47 L245.63 242.98 L246.1 242.03 L246.56 241.36 L247.03 240.87 L247.5 240.72 L247.97 240.45 L248.44 240.17 L248.91 240.72 L249.38 240.83 L249.85 240.87 L250.32 241.09 L250.78 239.76 L251.25 239.47 L251.72 239.32 L252.19 238.24 L252.66 238.06 L253.13 238.86 L253.59 237.99 L254.06 238.76 L254.53 238.4 L255 238.37 L255.47 238.06 L255.94 237.51 L256.41 238.32 L256.88 238.48 L257.35 238.67 L257.81 238.83 L258.28 238.06 L258.75 237.81 L259.22 237.77 L259.69 237.07 L260.16 237.16 L260.63 236.61 L261.1 236.65 L261.57 237.49 L262.03 237.73 L262.5 237.36 L262.97 238.11 L263.44 238.35 L263.91 238.06 L264.38 238.67 L264.85 238.45 L265.32 237.64 L265.79 237.98 L266.25 237.65 L266.72 238.06 L267.19 237.83 L267.66 238.03 L268.13 237.36 L268.6 237.93 L269.07 237.85 L269.54 237.07 L270.1 238.28 L270.66 238.76 L271.23 238.49 L271.79 236.65 L272.35 234.17 L272.91 233.14 L273.34 231.76 L273.76 231.73 L274.18 231.97 L274.6 232.43 L275.02 234.06 L275.44 234.54 L275.87 235.04 L276.29 236.65 L276.71 235.75 L277.13 235.95 L277.55 237.95 L277.97 239.47 L278.39 241.24 L278.82 242.98 L279.38 245 L279.85 244.98 L280.32 245.4 L280.79 246.41 L281.26 246.42 L281.72 246.27 L282.19 247.11 L282.75 248.3 L283.32 250.63 L283.88 251.38 L284.44 253.44 L285 255.65 L285.57 256.95 L286.13 259.05 L286.69 260.47 L287.25 263.22 L287.82 264.69 L288.38 265.01 L288.95 266.1 L289.51 266.81 L290.07 268.21 L290.49 269.18 L290.91 271.02 L291.34 273.63 L291.76 275.24 L292.18 276.41 L292.6 276.65 L293.02 274.8 L293.45 273.83 L294.01 274.58 L294.57 274.54 L295.13 275.55 L295.7 275.24 L296.12 278.03 L296.54 280.16 L296.96 283.98 L297.38 287.19 L297.81 290.27 L298.23 292.82 L298.79 294.93 L299.21 292.21 L299.63 290.01 L300.06 287.65 L300.48 285.79 L300.9 285.53 L301.32 284.38 L301.88 283.97 L302.45 285.08 L303.01 285.41 L303.57 285.79 L304.13 285.56 L304.7 286.49 L305.26 287.76 L305.82 288.6 L306.38 290.12 L306.95 290.71 L307.51 292.21 L308.07 292.82 L308.5 294.55 L308.92 296.34 L309.34 295.21 L309.76 294.93 L310.18 293.73 L310.6 291.41 L311.03 289.1 L311.46 287.21 L311.89 285.38 L312.32 283.73 L312.9 290.08 L313.33 294.24 L313.76 298.55 L314.33 302.79 L314.76 300.6 L315.2 297.19 L315.63 294.32 L316.06 293 L316.49 291.26 L316.91 290.92 L317.35 292.58 L317.78 294.47 L318.21 294.79 L318.64 295.9 L319.07 296.35 L319.5 295.23 L319.93 296.98 L320.36 298.07 L320.79 297.05 L321.22 296.7 L321.65 298.11 L322.09 299.54 L322.66 301.4 L323.23 303.1 L323.85 304.72 L324.48 305.29 L325.1 307.1" fill="none" stroke="#ee8136" stroke-width="2.3" stroke-linejoin="round" stroke-linecap="round"/><path d="M58.94 233.36 L59.43 232.76 L59.92 231.25 L60.63 229.85 L61.33 236.88 L61.82 239.29 L62.31 240.39 L62.88 240.77 L63.44 241.1 L64 240.35 L64.56 239.69 L65.06 238.14 L65.55 236.17 L66.04 235.24 L66.53 234.06 L67.09 233.22 L67.66 232.66 L68.22 232.41 L68.78 231.25 L69.28 230.74 L69.77 230.55 L70.26 231.33 L70.75 233.36 L71.31 234.92 L71.88 236.88 L72.44 236.16 L73 234.77 L73.56 233.12 L74.13 231.25 L74.69 229.78 L75.25 227.74 L75.81 227.77 L76.38 227.03 L76.94 226.38 L77.5 226.33 L77.97 225.63 L78.44 224.87 L78.91 224.92 L79.47 225.47 L80.04 226.33 L80.6 226.35 L81.16 226.33 L81.72 226.87 L82.29 227.03 L82.85 232.66 L83.41 241.1 L83.97 249.54 L84.54 256.57 L85.1 260.79 L85.52 259.96 L85.94 257.97 L86.37 257.88 L86.79 258.68 L87.21 260.01 L87.63 262.19 L88.05 259.8 L88.47 256.57 L88.89 253.96 L89.32 251.65 L89.74 250.78 L90.16 250.24 L90.59 251.98 L91.01 255.16 L91.43 258.45 L91.85 260.79 L92.27 262.06 L92.69 263.6 L93.12 261.24 L93.54 257.97 L93.96 256.87 L94.38 256.57 L94.81 259.05 L95.23 260.08 L95.65 261 L96.07 262.19 L96.49 264.75 L96.91 266.41 L97.34 267.81 L97.76 270.63 L98.18 270.07 L98.6 268.52 L99.02 266.83 L99.44 266.41 L99.87 268.35 L100.29 270.63 L100.71 271.99 L101.13 274.15 L101.56 273.37 L101.98 272.04 L102.4 270.26 L102.82 269.23 L103.24 267.76 L103.66 267.82 L104.09 268.48 L104.51 270.63 L104.93 271.74 L105.35 274.15 L105.78 275.96 L106.2 276.96 L106.62 278.49 L107.04 279.07 L107.46 280.84 L107.88 281.18 L108.31 278.47 L108.73 276.26 L109.15 275.41 L109.57 274.15 L109.99 276.25 L110.41 277.67 L110.84 278.56 L111.26 280.48 L111.68 281.14 L112.1 281.88 L112.53 281.17 L112.95 279.07 L113.37 280.09 L113.79 279.77 L114.21 280.09 L114.63 281.18 L115.06 278.61 L115.48 276.26 L115.9 274 L116.32 270.63 L116.75 269.29 L117.17 266.41 L117.59 265.82 L118.01 265.01 L118.43 264.24 L118.85 263.6 L119.28 262.13 L119.7 262.19 L120.12 264.33 L120.54 265.01 L120.97 265.28 L121.39 267.12 L121.81 266.89 L122.23 266.41 L122.65 267.9 L123.07 268.52 L123.5 268.44 L123.92 269.93 L124.34 269.38 L124.76 269.23 L125.18 268.17 L125.6 268.52 L126.03 268.39 L126.45 267.82 L126.87 267.53 L127.29 267.12 L127.72 267.92 L128.14 267.54 L128.56 267.24 L128.98 266.41 L129.4 266.08 L129.82 267.12 L130.25 266.46 L130.67 265.71 L131.09 265.8 L131.51 265.01 L131.94 265.65 L132.36 267.12 L132.78 267.29 L133.2 267.82 L133.62 267.05 L134.04 265.71 L134.46 267.08 L134.89 267.12 L135.31 268.07 L135.73 269.23 L136.16 268.59 L136.58 268.52 L137 271.06 L137.42 273.45 L137.84 274.71 L138.26 276.26 L138.69 276.7 L139.11 276.96 L139.53 277.03 L139.95 277.67 L140.37 277.38 L140.79 275.56 L141.21 272.51 L141.64 269.93 L142.06 269.63 L142.48 267.82 L142.91 266.96 L143.33 265.01 L143.75 263.78 L144.17 262.9 L144.59 261.51 L145.01 261.49 L145.44 261.92 L145.86 262.19 L146.28 264.24 L146.7 265.01 L147.12 266.27 L147.55 267.12 L147.97 266.26 L148.39 265.01 L148.81 263.86 L149.23 262.9 L150 261.49 L150.56 261.72 L151.13 262.9 L151.69 264.05 L152.25 265.01 L152.81 265.75 L153.38 267.12 L153.94 268.08 L154.5 269.23 L155.06 271.25 L155.63 272.04 L156.19 270.47 L156.75 269.93 L157.31 268.5 L157.88 268.52 L158.3 268.26 L158.72 269.23 L159.14 272.48 L159.56 274.15 L159.99 276.42 L160.41 277.67 L160.83 279.81 L161.25 280.48 L161.68 280.75 L162.1 281.18 L162.52 279.85 L162.94 279.07 L163.36 276.89 L163.78 276.26 L164.2 275.63 L164.63 274.85 L165.05 275.92 L165.47 276.96 L165.89 277.26 L166.32 278.37 L166.74 279.3 L167.16 279.07 L167.58 278.66 L168 279.77 L168.43 279.35 L168.85 277.67 L169.27 278.99 L169.69 280.48 L170.11 278.63 L170.53 275.56 L170.95 274.59 L171.38 274.85 L171.8 276.97 L172.22 279.07 L172.64 278.75 L173.07 279.77 L173.49 278.63 L173.91 277.67 L174.33 277.15 L174.75 277.38 L175.18 278.71 L175.6 279.07 L176.02 279.16 L176.44 280.48 L176.87 281.27 L177.29 282.59 L177.71 284.86 L178.13 286.1 L178.55 287.44 L178.97 288.21 L179.39 288.66 L179.82 288.92 L180.24 288.46 L180.66 287.51 L181.08 286.81 L181.5 284.7 L181.93 283.69 L182.35 282.59 L182.77 281.62 L183.19 281.18 L183.62 282.83 L184.04 283.29 L184.46 283.59 L184.88 284.7 L185.3 283.66 L185.72 283.99 L186.14 284.23 L186.57 283.29 L186.99 283.76 L187.41 283.99 L187.83 283.77 L188.26 284.7 L188.68 284.73 L189.1 283.29 L189.52 282.73 L189.94 281.18 L190.37 280.85 L190.79 280.48 L191.21 281.82 L191.63 281.6 L192.06 281.01 L192.48 281.18 L192.9 281.93 L193.32 281.88 L193.74 282.04 L194.16 282.59 L194.58 283.26 L195.01 283.99 L195.43 285.49 L195.85 285.4 L196.27 283.75 L196.69 283.29 L197.12 282.61 L197.54 282.59 L197.96 281.69 L198.38 281.88 L198.81 281.54 L199.23 281.6 L199.65 281.42 L200.07 281.18 L200.49 280.88 L200.91 279.77 L201.33 279.15 L201.76 277.67 L202.18 279.7 L202.6 280.48 L203.02 280.09 L203.45 278.37 L203.87 277.32 L204.29 276.96 L204.71 276.84 L205.13 277.67 L205.56 277.49 L205.98 276.26 L206.4 276.62 L206.82 276.96 L207.25 276.92 L207.67 275.98 L208.09 275.37 L208.51 276.26 L208.93 276.07 L209.35 276.96 L209.77 276.98 L210.2 276.26 L210.62 276.34 L211.04 277.67 L211.46 278.82 L211.88 279.07 L212.31 280.45 L212.73 280.48 L213.15 280.37 L213.57 281.18 L214 280.41 L214.42 280.76 L214.84 280.57 L215.26 281.6 L215.68 281.5 L216.1 282.17 L216.52 281.49 L216.95 281.32 L217.37 282.19 L217.79 281.6 L218.21 281.43 L218.64 280.48 L219.2 278.37 L219.62 279.65 L220.04 281.18 L220.46 280.5 L220.89 280.48 L221.31 280.22 L221.73 279.77 L222.15 279.04 L222.57 279.07 L223 279.09 L223.42 278.37 L223.84 278.45 L224.26 277.67 L224.69 276.36 L225.11 276.26 L225.53 275.95 L225.95 274.15 L226.37 273.53 L226.79 272.74 L227.21 272.43 L227.64 271.76 L228.06 272.42 L228.48 272.32 L228.9 273.65 L229.32 274.15 L229.75 273.8 L230.17 274.85 L230.59 274.57 L231.01 274.57 L231.44 274.5 L231.86 275.13 L232.28 276.13 L232.7 277.67 L233.12 279.13 L233.54 281.88 L233.96 283.54 L234.39 285.4 L234.81 285.34 L235.23 283.99 L235.66 281.56 L236.08 280.48 L236.5 280.02 L236.92 278.37 L237.34 278.47 L237.76 277.67 L238.19 276.77 L238.61 277.38 L239.03 277.4 L239.45 277.95 L240 278.05 L240.56 280.11 L241.13 282.27 L241.69 283.12 L242.25 283.68 L242.81 283.25 L243.38 282.97 L243.94 284.64 L244.5 285.08 L245.06 286.95 L245.63 289.3 L246.05 287.53 L246.47 285.79 L246.89 284.24 L247.31 282.97 L247.88 282.83 L248.44 283.68 L249 283.52 L249.56 282.27 L250.12 282.38 L250.69 283.68 L251.25 282.32 L251.81 279.46 L252.38 279.28 L252.94 278.05 L253.5 279.24 L254.06 279.46 L254.62 278.73 L255.19 278.05 L255.75 277.13 L256.32 276.65 L256.88 275.49 L257.44 275.24 L258 274.94 L258.57 274.54 L259.13 274.51 L259.69 273.83 L260.25 272.8 L260.82 273.13 L261.38 272.97 L261.94 273.83 L262.5 272.74 L263.07 273.13 L263.63 274.3 L264.19 274.54 L264.75 274.61 L265.32 275.94 L265.88 275.52 L266.44 276.65 L267 277.39 L267.57 276.65 L268.13 276.2 L268.69 276.22 L269.25 276.14 L269.82 275.66 L270.38 275.05 L270.94 274.54 L271.5 274.22 L272.07 272.43 L272.49 270.28 L272.91 267.5 L273.34 265.59 L273.76 262.58 L274.18 262.97 L274.6 261.88 L275.02 261.97 L275.44 263.28 L275.87 263.79 L276.29 265.39 L276.71 266.44 L277.13 268.91 L277.55 270.9 L277.97 273.13 L278.39 273.2 L278.82 273.83 L279.24 274.79 L279.66 275.24 L280.09 274.24 L280.51 274.82 L280.93 275.3 L281.35 275.94 L281.77 278.34 L282.19 279.46 L282.62 280.94 L283.04 281.57 L283.46 283.64 L283.88 284.38 L284.31 284.7 L284.73 285.79 L285.15 285.61 L285.57 286.49 L285.99 288.2 L286.41 290.01 L286.84 290.08 L287.26 291.41 L287.68 292.5 L288.1 292.82 L288.52 292.41 L288.95 293.52 L289.37 294.78 L289.79 295.63 L290.21 297.23 L290.63 297.74 L291.06 298.66 L291.48 300.56 L291.9 300.66 L292.32 301.96 L292.88 302.21 L293.45 301.26 L294.01 302.07 L294.57 301.54 L295.13 301.87 L295.7 301.26 L296.12 302.8 L296.54 305.48 L296.96 309 L297.38 312.51 L297.81 314.17 L298.23 316.73 L298.65 318.29 L299.07 319.54 L299.5 322.89 L299.92 325.17 L300.48 319.54 L300.9 316.84 L301.32 314.62 L301.75 314.3 L302.17 313.92 L302.59 312.78 L303.01 313.21 L303.43 312.91 L303.85 312.51 L304.42 316.73 L304.84 318.6 L305.26 319.54 L305.68 320.13 L306.1 321.65 L306.52 322.65 L306.95 323.06 L307.37 322.99 L307.79 323.76 L308.22 324.53 L308.64 325.17 L309.06 325.23 L309.48 324.47 L309.9 323.38 L310.32 321.65 L310.75 319.71 L311.18 318.85 L311.61 318.04 L312.03 316.77 L312.46 320.23 L312.9 322.42 L313.33 325.22 L313.76 326.67 L314.19 327.74 L314.62 329.5 L315.05 326.98 L315.48 325.31 L315.91 323.91 L316.34 321.12 L316.77 320.43 L317.2 320.44 L317.63 322.39 L318.07 324.69 L318.5 325.09 L318.92 326.11 L319.36 326.57 L319.79 326.85 L320.37 327.29 L320.94 328.28 L321.51 329.04 L322.09 329.02 L322.69 329.41 L323.29 328.5 L323.9 329.48 L324.5 329.21 L325.1 329.4" fill="none" stroke="#7d35cd" stroke-width="2.3" stroke-linejoin="round" stroke-linecap="round"/><circle cx="325.1" cy="223.98" r="5" fill="#4f7dec"/><circle cx="325.1" cy="249.94" r="5" fill="#f3ba3f"/><circle cx="325.1" cy="227.26" r="5" fill="#55bfde"/><circle cx="325.1" cy="307.1" r="5" fill="#ee8136"/><circle cx="325.1" cy="329.4" r="5" fill="#7d35cd"/></svg>
<span class="t" style="left:33.24px;top:129px;font-size:11.6px;line-height:16px;color:#70757a;letter-spacing:-0.2px;transform:scaleX(0.9874);">5%</span>
<span class="t" style="left:33.51px;top:176px;font-size:11.6px;line-height:16px;color:#70757a;letter-spacing:-0.32px;transform:scaleX(0.9802);">0%</span>
<span class="t" style="left:29.34px;top:223px;font-size:11.6px;line-height:16px;color:#70757a;letter-spacing:-0.04px;transform:scaleX(0.9961);">-5%</span>
<span class="t" style="left:21.62px;top:269px;font-size:11.6px;line-height:16px;color:#70757a;letter-spacing:0.16px;transform:scaleX(1.0171);">-10%</span>
<span class="t" style="left:21.62px;top:316px;font-size:11.6px;line-height:16px;color:#70757a;letter-spacing:0.16px;transform:scaleX(1.0171);">-15%</span>
<span class="t" style="left:21.62px;top:363px;font-size:11.6px;line-height:16px;color:#70757a;letter-spacing:0.16px;transform:scaleX(1.0171);">-20%</span>
<span class="t" style="left:99.35px;top:382px;font-size:11.8px;line-height:16px;color:#70757a;letter-spacing:0.15px;transform:scaleX(1.0189);">2:00</span>
<span class="t" style="left:205.26px;top:382px;font-size:11.8px;line-height:16px;color:#70757a;letter-spacing:0.15px;transform:scaleX(1.0193);">6:00</span>
<span class="t" style="left:306.57px;top:382px;font-size:11.8px;line-height:16px;color:#70757a;letter-spacing:0.26px;transform:scaleX(1.0335);">10:00</span>
<span class="t" style="left:412.49px;top:382px;font-size:11.8px;line-height:16px;color:#70757a;letter-spacing:0.26px;transform:scaleX(1.0335);">14:00</span>
<span class="t" style="left:518.01px;top:382px;font-size:11.8px;line-height:16px;color:#70757a;letter-spacing:0.26px;transform:scaleX(1.0335);">18:00</span>
<span class="t" style="left:624.22px;top:382px;font-size:11.8px;line-height:16px;color:#70757a;letter-spacing:0.19px;transform:scaleX(1.0251);">22:00</span>
</figure>
<!-- comparison table -->
<section aria-label="Comparison">
<div aria-label="Gold">
<div class="pill" style="left:30.2px;top:427px;background:#4f7dec"></div>
<div class="badge" style="left:583.1px;top:418.8px;width:79.1px;height:33.4px"></div>
<svg class="ic" style="left:593.7px;top:429.7px" width="12" height="12" viewBox="0 0 12 12" fill="none" stroke="#22763a" stroke-width="1.6"><path d="M6 .2V10.4M1 5.5L6 10.5l5-5"/></svg>
<svg class="ic" style="left:0;top:459px" width="728" height="4" viewBox="0 0 728 4"><rect x="13.8" y="1.5" width="698.5" height="1" fill="#d8dade"/></svg>
<span class="t M" style="left:42.8px;top:426px;font-size:13.9px;line-height:19px;color:#202124;letter-spacing:0.74px;transform:scaleX(1.0721);">Gold</span>
<span class="t M" style="left:287.54px;top:426px;font-size:14.8px;line-height:20px;color:#202124;letter-spacing:0.73px;transform:scaleX(1.0819);">$4,356.30</span>
<span class="t m" style="left:489.64px;top:426px;font-size:15px;line-height:20px;color:#22763a;letter-spacing:0.64px;transform:scaleX(1.0711);">-$196.40</span>
<span class="t M" style="left:609px;top:426px;font-size:15px;line-height:20px;color:#22763a;letter-spacing:0.23px;transform:scaleX(1.0214);">4.31%</span>
</div>
<div aria-label="Silver">
<div class="pill" style="left:30.2px;top:478.2px;background:#f3ba3f"></div>
<div class="badge" style="left:581.6px;top:470px;width:80.6px;height:33.4px"></div>
<svg class="ic" style="left:592.3px;top:480.9px" width="12" height="12" viewBox="0 0 12 12" fill="none" stroke="#22763a" stroke-width="1.6"><path d="M6 .2V10.4M1 5.5L6 10.5l5-5"/></svg>
<svg class="ic" style="left:675.15px;top:474.25px" width="24.6" height="24.6" viewBox="0 0 24 24" fill="#5f6368"><path d="M19 6.41L17.59 5 12 10.59 6.41 5 5 6.41 10.59 12 5 17.59 6.41 19 12 13.41 17.59 19 19 17.59 13.41 12z"/></svg>
<svg class="ic" style="left:0;top:510px" width="728" height="4" viewBox="0 0 728 4"><rect x="13.8" y="1.75" width="698.5" height="1" fill="#d8dade"/></svg>
<span class="t M" style="left:42.54px;top:477px;font-size:13.9px;line-height:19px;color:#202124;letter-spacing:0.41px;transform:scaleX(1.0549);">Silver</span>
<span class="t M" style="left:316.48px;top:477px;font-size:14.8px;line-height:20px;color:#202124;letter-spacing:0.23px;transform:scaleX(1.0251);">$71.73</span>
<span class="t m" style="left:506.06px;top:477px;font-size:15px;line-height:20px;color:#22763a;letter-spacing:0.81px;transform:scaleX(1.0872);">-$5.47</span>
<span class="t M" style="left:607.6px;top:478px;font-size:15px;line-height:20px;color:#22763a;letter-spacing:0.39px;transform:scaleX(1.0356);">7.08%</span>
</div>
<div aria-label="Copper">
<div class="pill" style="left:30.2px;top:529.4px;background:#55bfde"></div>
<div class="badge" style="left:580.8px;top:521.2px;width:81.4px;height:33.4px"></div>
<svg class="ic" style="left:591.5px;top:532.1px" width="12" height="12" viewBox="0 0 12 12" fill="none" stroke="#22763a" stroke-width="1.6"><path d="M6 .2V10.4M1 5.5L6 10.5l5-5"/></svg>
<svg class="ic" style="left:675.15px;top:525.45px" width="24.6" height="24.6" viewBox="0 0 24 24" fill="#5f6368"><path d="M19 6.41L17.59 5 12 10.59 6.41 5 5 6.41 10.59 12 5 17.59 6.41 19 12 13.41 17.59 19 19 17.59 13.41 12z"/></svg>
<svg class="ic" style="left:0;top:561px" width="728" height="4" viewBox="0 0 728 4"><rect x="13.8" y="2" width="698.5" height="1" fill="#d8dade"/></svg>
<span class="t M" style="left:43.06px;top:528px;font-size:13.9px;line-height:19px;color:#202124;letter-spacing:0.71px;transform:scaleX(1.0716);">Copper</span>
<span class="t M" style="left:322.42px;top:529px;font-size:14.8px;line-height:20px;color:#202124;letter-spacing:0.48px;transform:scaleX(1.0491);">$5.57</span>
<span class="t m" style="left:505.48px;top:529px;font-size:15px;line-height:20px;color:#22763a;letter-spacing:0.75px;transform:scaleX(1.0814);">-$0.27</span>
<span class="t M" style="left:607px;top:529px;font-size:15px;line-height:20px;color:#22763a;letter-spacing:0.49px;transform:scaleX(1.0442);">4.66%</span>
</div>
<div aria-label="Platinum">
<div class="pill" style="left:30.2px;top:580.6px;background:#ee8136"></div>
<div class="badge" style="left:577.6px;top:572.4px;width:84.6px;height:33.4px"></div>
<svg class="ic" style="left:588.5px;top:583.3px" width="12" height="12" viewBox="0 0 12 12" fill="none" stroke="#22763a" stroke-width="1.6"><path d="M6 .2V10.4M1 5.5L6 10.5l5-5"/></svg>
<svg class="ic" style="left:675.15px;top:576.65px" width="24.6" height="24.6" viewBox="0 0 24 24" fill="#5f6368"><path d="M19 6.41L17.59 5 12 10.59 6.41 5 5 6.41 10.59 12 5 17.59 6.41 19 12 13.41 17.59 19 19 17.59 13.41 12z"/></svg>
<svg class="ic" style="left:0;top:612px" width="728" height="4" viewBox="0 0 728 4"><rect x="13.8" y="2.25" width="698.5" height="1" fill="#d8dade"/></svg>
<span class="t M" style="left:42.95px;top:579px;font-size:13.9px;line-height:19px;color:#202124;letter-spacing:0.59px;transform:scaleX(1.0727);">Platinum</span>
<span class="t M" style="left:289.54px;top:580px;font-size:14.8px;line-height:20px;color:#202124;letter-spacing:0.38px;transform:scaleX(1.0448);">$2,162.80</span>
<span class="t m" style="left:483.48px;top:580px;font-size:15px;line-height:20px;color:#22763a;letter-spacing:0.7px;transform:scaleX(1.0764);">-$328.30</span>
<span class="t M" style="left:602.78px;top:580px;font-size:15px;line-height:20px;color:#22763a;letter-spacing:-0.07px;transform:scaleX(0.9924);">13.18%</span>
</div>
<div aria-label="Palladium">
<div class="pill" style="left:30.2px;top:631.8px;background:#7d35cd"></div>
<div class="badge" style="left:574.3px;top:623.6px;width:87.9px;height:33.4px"></div>
<svg class="ic" style="left:584.6px;top:634.5px" width="12" height="12" viewBox="0 0 12 12" fill="none" stroke="#22763a" stroke-width="1.6"><path d="M6 .2V10.4M1 5.5L6 10.5l5-5"/></svg>
<svg class="ic" style="left:675.15px;top:627.85px" width="24.6" height="24.6" viewBox="0 0 24 24" fill="#5f6368"><path d="M19 6.41L17.59 5 12 10.59 6.41 5 5 6.41 10.59 12 5 17.59 6.41 19 12 13.41 17.59 19 19 17.59 13.41 12z"/></svg>
<svg class="ic" style="left:0;top:664px" width="728" height="4" viewBox="0 0 728 4"><rect x="13.8" y="1.5" width="698.5" height="1" fill="#d8dade"/></svg>
<span class="t M" style="left:42.96px;top:630px;font-size:13.9px;line-height:19px;color:#202124;letter-spacing:0.45px;transform:scaleX(1.0575);">Palladium</span>
<span class="t M" style="left:285.46px;top:631px;font-size:14.8px;line-height:20px;color:#202124;letter-spacing:0.57px;transform:scaleX(1.0652);">$1,708.50</span>
<span class="t m" style="left:480.56px;top:631px;font-size:15px;line-height:20px;color:#22763a;letter-spacing:0.64px;transform:scaleX(1.0711);">-$314.80</span>
<span class="t M" style="left:599.63px;top:631px;font-size:15px;line-height:20px;color:#22763a;letter-spacing:0.27px;transform:scaleX(1.0263);">15.56%</span>
</div>
</section>
<!-- footer actions -->
<footer aria-label="Actions">
<svg class="ic" style="left:24.9px;top:685.4px" width="13.2" height="13.2" viewBox="0 0 14 14" fill="#2f72e4"><path d="M6 0h2v6h6v2H8v6H6V8H0V6h6z"/></svg>
<svg class="j" role="img" aria-label="比較対象を追加" style="left:49.71px;top:684.84px" width="102.39" height="14.12" viewBox="19 -864 7013 967" preserveAspectRatio="none" fill="#2f72e4"><title>比較対象を追加</title><text x="0" y="0" font-size="1000" fill="#2f72e4">比較対象を追加</text></svg>
<svg class="j" role="img" aria-label="すべてクリア" style="left:617.21px;top:685.42px" width="85.59" height="13.15" viewBox="76 -827 5862 901" preserveAspectRatio="none" fill="#2f72e4"><title>すべてクリア</title><text x="0" y="0" font-size="1000" fill="#2f72e4">すべてクリア</text></svg>
</footer>
</div>
</body></html>
